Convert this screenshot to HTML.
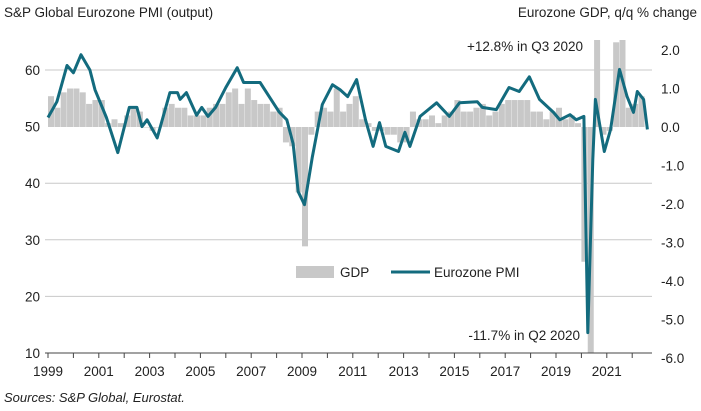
<!DOCTYPE html>
<html><head><meta charset="utf-8"><style>
html,body{margin:0;padding:0;background:#fff;font-family:"Liberation Sans",sans-serif;overflow:hidden;width:701px;height:411px;}
svg{display:block;overflow:hidden;position:absolute;left:0;top:0;}
svg text{font-family:"Liberation Sans",sans-serif;fill:#222;}
</style></head><body>
<svg id="c" width="701" height="411" viewBox="0 0 701 411">
<text x="4" y="17" font-size="13.5">S&amp;P Global Eurozone PMI (output)</text>
<text x="697" y="17" font-size="13.5" text-anchor="end">Eurozone GDP, q/q % change</text>
<g id="grid"></g><g id="bars"></g><g id="line"></g><g id="axes"></g>
<text x="583" y="51" font-size="13.5" text-anchor="end">+12.8% in Q3 2020</text>
<text x="580" y="340" font-size="13.5" text-anchor="end">-11.7% in Q2 2020</text>
<rect x="296" y="266" width="38" height="12" fill="#c8c8c8"/>
<text x="340" y="277" font-size="13.5">GDP</text>
<line x1="391" y1="272" x2="430" y2="272" stroke="#136b7e" stroke-width="3"/>
<text x="434" y="277" font-size="13.5">Eurozone PMI</text>
<text x="4" y="402" font-size="13" font-style="italic">Sources: S&amp;P Global, Eurostat.</text>
</svg>
<script>
const pmiDates=[1999.0,1999.35,1999.75,2000.0,2000.3,2000.65,2000.85,2001.3,2001.75,2002.2,2002.5,2002.7,2002.9,2003.3,2003.8,2004.1,2004.2,2004.45,2004.85,2005.05,2005.3,2005.6,2006.0,2006.45,2006.7,2007.35,2007.75,2008.1,2008.4,2008.65,2008.85,2009.1,2009.4,2009.8,2010.2,2010.5,2010.8,2011.15,2011.5,2011.8,2012.05,2012.3,2012.8,2013.05,2013.25,2013.65,2014.3,2014.8,2015.2,2015.9,2016.1,2016.65,2017.15,2017.55,2017.95,2018.35,2018.9,2019.15,2019.55,2019.8,2020.1,2020.25,2020.45,2020.55,2020.9,2021.15,2021.5,2021.8,2022.05,2022.2,2022.45,2022.6];
const pmiValues=[51.6,54.4,60.8,59.5,62.7,60,56.5,51.6,45.4,53.4,53.4,50,51.2,48,56,56,54.8,56,52,53.4,51.8,53.4,56.9,60.4,57.8,57.8,55,52.6,51.2,47,38.5,36.2,44.5,53.9,57.4,56.5,55.3,58.3,51.2,46.5,50.7,46.5,45.6,49,46.5,51.8,54.2,51.8,54.2,54.4,53.4,53,56.9,56.2,58.8,54.8,52.5,51.2,52.1,51.2,51.8,13.6,44.2,54.8,45.6,49.5,60.1,55.3,52.5,56.2,54.8,49.5];
const gdpStartYear=1999;
const gdpValues=[0.8,0.5,0.9,1.0, 1.0,0.9,0.6,0.7, 0.7,0.1,0.2,0.1, 0.3,0.5,0.4,0.0, -0.1,0.0,0.5,0.6, 0.5,0.5,0.3,0.3, 0.3,0.5,0.6,0.6, 0.9,1.0,0.6,1.0, 0.7,0.6,0.6,0.4, 0.5,-0.4,-0.5,-1.7, -3.1,-0.2,0.4,0.5, 0.4,1.0,0.4,0.6, 0.8,0.2,0.1,-0.1, -0.1,-0.2,-0.2,-0.4, -0.4,0.4,0.2,0.2, 0.3,0.1,0.3,0.4, 0.7,0.4,0.4,0.5, 0.6,0.3,0.4,0.6, 0.7,0.7,0.7,0.7, 0.4,0.4,0.2,0.4, 0.5,0.2,0.3,0.1, -3.5,-11.7,12.8,-0.2, -0.1,2.2,2.3,0.5, 0.6,0.8];
const leftTicks=[10,20,30,40,50,60];
const rightTicks=["2.0","1.0","0.0","-1.0","-2.0","-3.0","-4.0","-5.0","-6.0"];
const xTicks=[1999,2001,2003,2005,2007,2009,2011,2013,2015,2017,2019,2021];
const NS='http://www.w3.org/2000/svg';
const X=t=>48+(t-1999)*25.4;
const YL=v=>353-(v-10)*5.66;
const YR=v=>Math.max(40,Math.min(353,127-v*38.5));
function mk(tag,attrs,parent,txt){const e=document.createElementNS(NS,tag);for(const k in attrs)e.setAttribute(k,attrs[k]);if(txt!==undefined)e.textContent=txt;document.getElementById(parent).appendChild(e);return e;}
leftTicks.forEach(v=>{
  if(v>10&&v!==50){const g=mk('line',{x1:45,x2:652,y1:YL(v),y2:YL(v),stroke:'#c8c8c8','stroke-width':1},'grid');
  
  }
  const t=mk('text',{x:40,y:YL(v)+5,'font-size':13.5,'text-anchor':'end'},'axes',v);
  
  
});
rightTicks.forEach(s=>{
  const t=mk('text',{x:661,y:127-parseFloat(s)*38.5+5,'font-size':13.5},'axes',s);
  
  
});
gdpValues.forEach((v,i)=>{
  const t=gdpStartYear+i*0.25;const y0=YR(0),y1=YR(v);
  const r=mk('rect',{x:X(t),y:Math.min(y0,y1),width:6,height:Math.max(Math.abs(y1-y0),0.5),fill:'#c8c8c8'},'bars');
  
  
});
const d=pmiDates.map((t,i)=>(i?'L':'M')+X(t).toFixed(1)+','+YL(pmiValues[i]).toFixed(1)).join('');
const p=mk('path',{d:d,fill:'none',stroke:'#136b7e','stroke-width':3,'stroke-linejoin':'round'},'line');


const ax=mk('line',{x1:45,x2:652,y1:353,y2:353,stroke:'#444','stroke-width':1},'axes');


for(let y=1999;y<=2022;y++){
  const tk=mk('line',{x1:X(y),x2:X(y),y1:353,y2:358,stroke:'#444'},'axes');
  
  
}
xTicks.forEach(y=>{
  const t=mk('text',{x:X(y),y:376,'font-size':13.5,'text-anchor':'middle'},'axes',y);
  
  
});
</script>
</body></html>
